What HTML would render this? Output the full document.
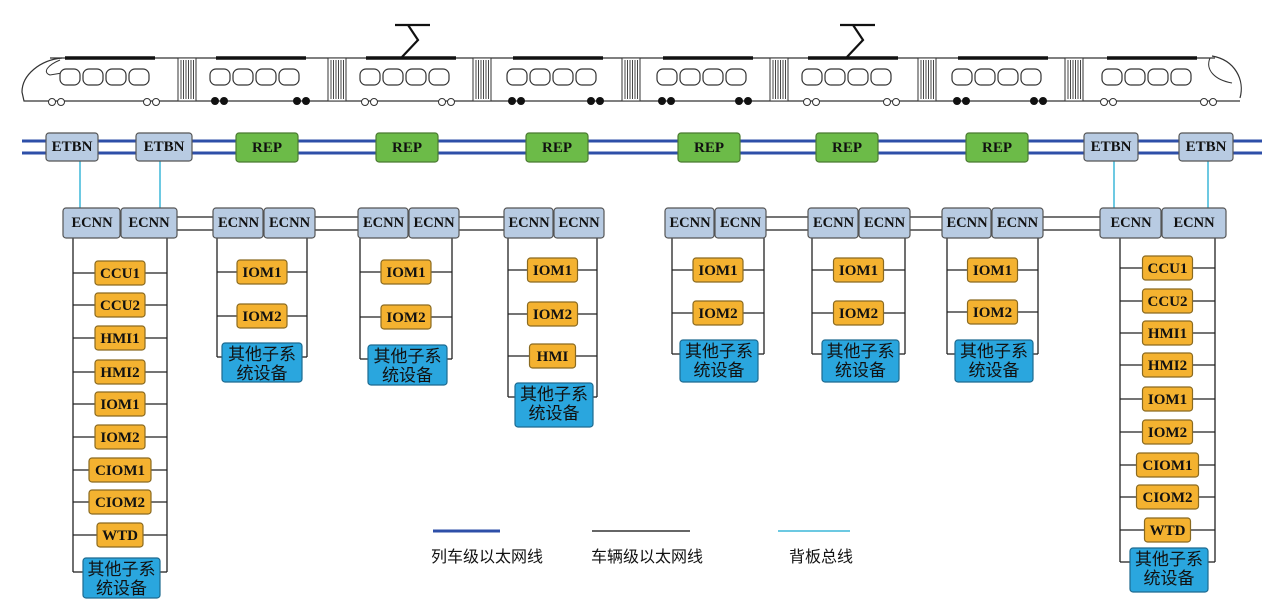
<!DOCTYPE html>
<html><head><meta charset="utf-8"><style>
html,body{margin:0;padding:0;background:#fff;width:1279px;height:616px;overflow:hidden}
svg{display:block}
.t{font-family:"Liberation Serif",serif;font-weight:bold;fill:#111;text-anchor:middle;dominant-baseline:central}
.c{font-family:"Liberation Sans","Noto Sans CJK SC",sans-serif;fill:#111;text-anchor:middle}
</style></head><body>
<svg id="s" width="1279" height="616" viewBox="0 0 1279 616" xmlns="http://www.w3.org/2000/svg"></svg>
<script>
const s=document.getElementById('s');let h='';
function R(x,y,w,hh,f,st){h+=`<rect x="${x}" y="${y}" width="${w}" height="${hh}" rx="3" fill="${f}" stroke="${st||'#555'}" stroke-width="1.2"/>`;}
function L(x1,y1,x2,y2,c,w){h+=`<line x1="${x1}" y1="${y1}" x2="${x2}" y2="${y2}" stroke="${c}" stroke-width="${w}"/>`;}
function T(x,y,t,sz){h+=`<text class="t" x="${x}" y="${y}" font-size="${sz||15}">${t}</text>`;}
// train
const tc='#333';
L(50,58,1215,58,tc,1.2);L(45,101,1240,101,tc,1.2);
// nose left
h+=`<path d="M62,58 C40,60 22,75 22,92 L24,101 L45,101" fill="none" stroke="${tc}" stroke-width="1.2"/><path d="M60,60 C48,65 42,72 50,75 L62,73" fill="none" stroke="${tc}" stroke-width="1"/>`;
h+=`<path d="M1212,56 C1235,60 1245,80 1240,98" fill="none" stroke="${tc}" stroke-width="1.2"/><path d="M1210,58 C1205,70 1215,80 1232,83" fill="none" stroke="${tc}" stroke-width="1"/>`;
const gw=[178,328,473,622,770,918,1065];
gw.forEach(g=>{h+=`<rect x="${g}" y="58" width="18" height="43" fill="#fff" stroke="${tc}"/>`;for(let i=3;i<16;i+=2.5)L(g+i,60,g+i,99,tc,0.9);});
const cars=[[22,178,0],[196,328,1],[346,473,0],[493,622,1],[643,770,1],[788,918,0],[938,1065,1],[1085,1240,0]];
cars.forEach(([a,b,pw],i)=>{
 let wx=(i==0)?60:(i==7?1102:a+14);
 for(let k=0;k<4;k++)h+=`<rect x="${wx+k*23}" y="69" width="20" height="16" rx="6" fill="#fff" stroke="${tc}" stroke-width="1.2"/>`;
 let rs=(i==0)?65:(i==7?1107:a+20),re=rs+90;L(rs,58,re,58,'#111',3.5);
 let w1=(i==0)?48:a+15,w2=(i==7)?1200:b-35;
 [w1,w2].forEach(x=>{for(let k=0;k<2;k++){if(pw)h+=`<circle cx="${x+k*9+4}" cy="101" r="4" fill="#111"/>`;else h+=`<circle cx="${x+k*9+4}" cy="102" r="3.5" fill="#fff" stroke="${tc}"/>`;}});
});
[[410,395,430],[855,840,875]].forEach(([x,a,b])=>{h+=`<path d="M${a},25 L${b},25 M${x-2},25 L${x+8},40 L${x-8},57" fill="none" stroke="#111" stroke-width="2.2"/>`;});
// bus lines
L(22,141,1262,141,'#2e4fa8',3);L(22,153,1262,153,'#2e4fa8',3);
// cyan
[[80],[160],[1114],[1208]].forEach(([x])=>L(x,161,x,208,'#3cb7d9',1.5));
[[46,52,'ETBN'],[136,56,'ETBN'],[1084,54,'ETBN'],[1179,54,'ETBN']].forEach(([x,w,t])=>{R(x,133,w,28,'#b8cbe2');T(x+w/2,147,t,15);});
[236,376,526,678,816,966].forEach(x=>{R(x,133,62,29,'#6cbb48','#4a7a30');T(x+31,148,'REP',15);});
// ECNN horizontal links
[[177,213],[315,358],[459,504],[766,808],[910,942],[1043,1100]].forEach(([a,b])=>{L(a,217,b,217,'#222',1.3);L(a,230,b,230,'#222',1.3);});
const G=[
 {e:[63,121,177],l:73,r:167,it:[['CCU1',273],['CCU2',305],['HMI1',338],['HMI2',372],['IOM1',404],['IOM2',437],['CIOM1',470],['CIOM2',502],['WTD',535]],o:[83,558,77,40]},
 {e:[213,264,315],l:217,r:307,it:[['IOM1',272],['IOM2',316]],o:[222,343,80,39]},
 {e:[358,409,459],l:360,r:452,it:[['IOM1',272],['IOM2',317]],o:[368,345,79,40]},
 {e:[504,554,604],l:508,r:597,it:[['IOM1',270],['IOM2',314],['HMI',356]],o:[515,383,78,44]},
 {e:[665,715,766],l:672,r:764,it:[['IOM1',270],['IOM2',313]],o:[680,340,78,42]},
 {e:[808,859,910],l:812,r:905,it:[['IOM1',270],['IOM2',313]],o:[822,340,77,42]},
 {e:[942,992,1043],l:947,r:1038,it:[['IOM1',270],['IOM2',312]],o:[955,340,78,42]},
 {e:[1100,1162,1226],l:1120,r:1215,it:[['CCU1',268],['CCU2',301],['HMI1',333],['HMI2',365],['IOM1',399],['IOM2',432],['CIOM1',465],['CIOM2',497],['WTD',530]],o:[1130,548,78,44]},
];
G.forEach(g=>{
 const ly=g.o[1]+14;
 L(g.l,238,g.l,ly,'#222',1.3);L(g.r,238,g.r,ly,'#222',1.3);
 L(g.l,ly,g.o[0],ly,'#222',1.3);L(g.r,ly,g.o[0]+g.o[2],ly,'#222',1.3);
 const cx=(g.l+g.r)/2;
 g.it.forEach(([t,y])=>{const w=t.length>=5?62:(t.length==3?46:50);L(g.l,y,g.r,y,'#222',1.3);R(cx-w/2,y-12,w,24,'#f4b230','#8a6a20');T(cx,y+1,t,15);});
 R(g.o[0],g.o[1],g.o[2],g.o[3],'#2aa6de','#1d6a90');
 const ox=g.o[0]+g.o[2]/2;
 h+=`<text class="c" x="${ox}" y="${g.o[1]+17}" font-size="17">其他子系</text><text class="c" x="${ox}" y="${g.o[1]+36}" font-size="17">统设备</text>`;
});
// ECNN boxes
G.forEach(g=>{const [a,b,c]=g.e;R(a,208,b-a-1,30,'#b8cbe2');T((a+b)/2,223,'ECNN',14.5);R(b,208,c-b,30,'#b8cbe2');T((b+c)/2,223,'ECNN',14.5);});
// legend
L(433,531,500,531,'#2e4fa8',3);L(592,531,690,531,'#333',1.5);L(778,531,850,531,'#3cb7d9',1.5);
h+=`<text class="c" x="487" y="562" font-size="16">列车级以太网线</text><text class="c" x="647" y="562" font-size="16">车辆级以太网线</text><text class="c" x="821" y="562" font-size="16">背板总线</text>`;
s.innerHTML=h;
</script>
</body></html>
